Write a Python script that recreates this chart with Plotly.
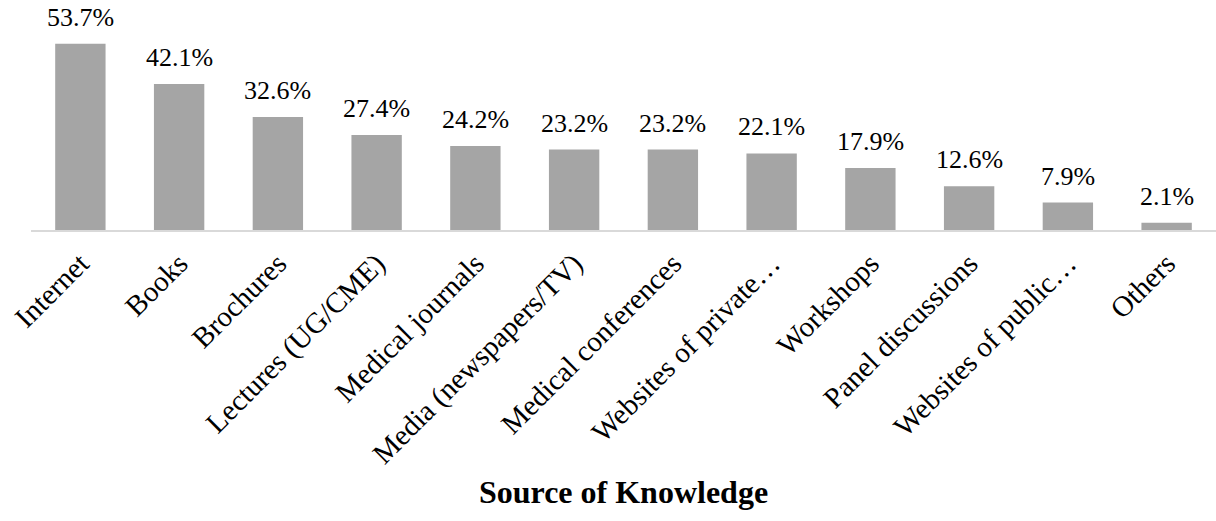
import plotly.graph_objects as go

categories = ["Internet", "Books", "Brochures", "Lectures (UG/CME)", "Medical journals",
              "Media (newspapers/TV)", "Medical conferences", "Websites of private…",
              "Workshops", "Panel discussions", "Websites of public…", "Others"]
values = [53.7, 42.1, 32.6, 27.4, 24.2, 23.2, 23.2, 22.1, 17.9, 12.6, 7.9, 2.1]
labels = [f"{v:.1f}%" for v in values]

FONT = "Liberation Serif, Times New Roman, serif"

fig = go.Figure(go.Bar(
    x=categories, y=values,
    marker=dict(color="#a5a5a5", line=dict(width=0)),
    cliponaxis=False, hoverinfo="x+y",
))

for c, v, t in zip(categories, values, labels):
    fig.add_annotation(x=c, y=v, text=t, showarrow=False, xanchor="center", yanchor="bottom",
                       yshift=10, font=dict(family=FONT, size=26, color="#000000"))

fig.update_layout(
    width=1216, height=521,
    margin=dict(l=31, r=0, t=22, b=291),
    paper_bgcolor="white", plot_bgcolor="white",
    bargap=0.49,
    showlegend=False,
    font=dict(family=FONT, size=26, color="#000000"),
    xaxis=dict(
        tickangle=-45, showline=True, linecolor="#d9d9d9", linewidth=2,
        showgrid=False, ticks="outside", ticklen=3, tickcolor="rgba(0,0,0,0)",
        tickfont=dict(family=FONT, size=29, color="#000000"),
        title=dict(text="<b>Source of Knowledge</b>", font=dict(family=FONT, size=32, color="#000000"), standoff=11),
        automargin=False,
    ),
    yaxis=dict(range=[0, 60], visible=False, showgrid=False),
)

fig.write_html("out.html", config={"displayModeBar": False},
               post_script="document.body.style.margin='0';")
